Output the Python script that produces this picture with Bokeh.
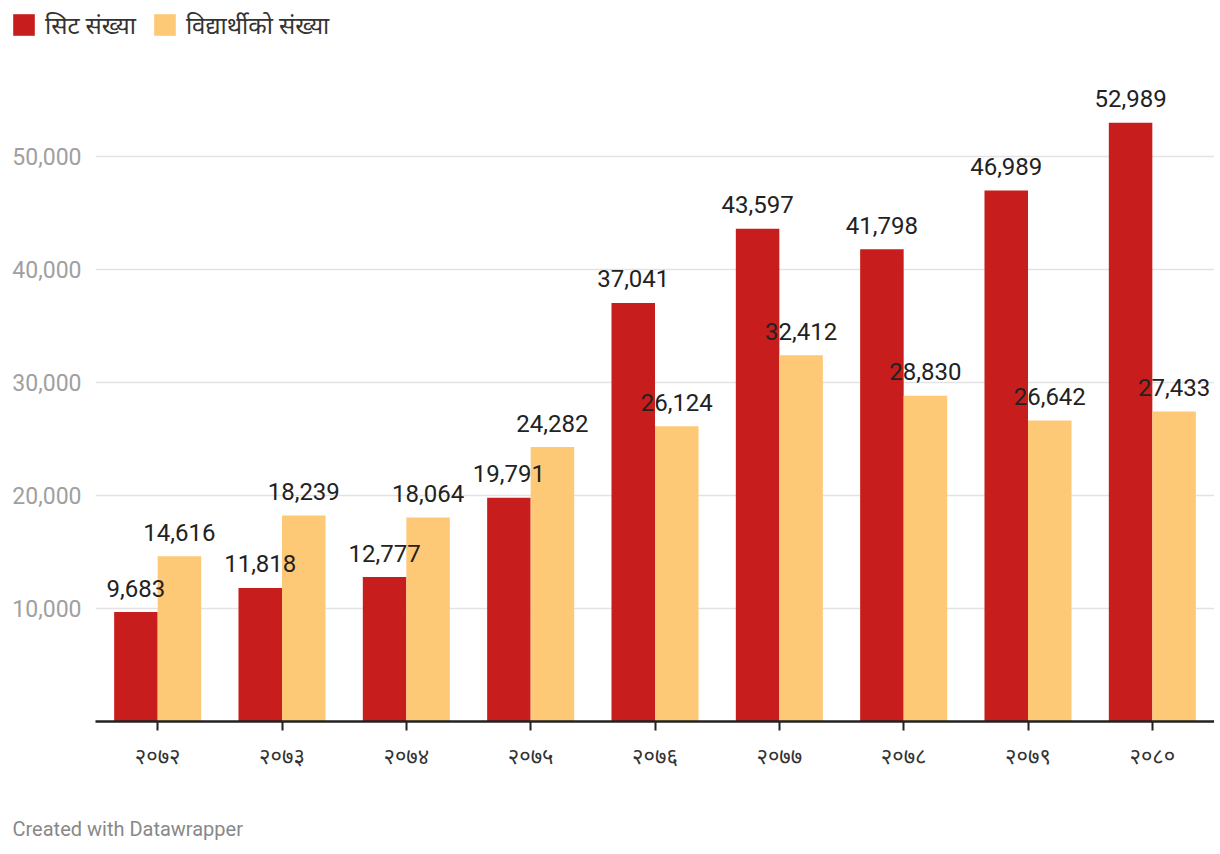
from bokeh.plotting import figure
from bokeh.models import ColumnDataSource, FactorRange, Range1d, FixedTicker, Legend, LegendItem, Label, NumeralTickFormatter
from bokeh.transform import dodge
from bokeh.core.properties import value
from bokeh.embed import file_html
from bokeh.resources import INLINE

years = ["२०७२", "२०७३", "२०७४", "२०७५", "२०७६", "२०७७", "२०७८", "२०७९", "२०८०"]
seats = [9683, 11818, 12777, 19791, 37041, 43597, 41798, 46989, 52989]
students = [14616, 18239, 18064, 24282, 26124, 32412, 28830, 26642, 27433]
series_names = ["सिट संख्या", "विद्यार्थीको संख्या"]
y_ticks = [10000, 20000, 30000, 40000, 50000]
footer_text = "Created with Datawrapper"

RED = "#c71e1d"
YELLOW = "#fec977"
FONT = "Roboto, 'Noto Sans', sans-serif"
W = 1214

src = ColumnDataSource(dict(
    year=years,
    seats=seats,
    students=students,
    seats_lbl=[f"{v:,}" for v in seats],
    students_lbl=[f"{v:,}" for v in students],
))

# ---- legend strip (zero-width bars outside its visible range; only the legend shows) ----
leg = figure(width=W, height=45, x_range=FactorRange(factors=years), y_range=Range1d(-100000, -60000),
             x_axis_location=None, y_axis_location=None,
             output_backend="svg", toolbar_location=None, min_border=0)
leg.outline_line_color = None
leg.grid.visible = False
lr1 = leg.vbar(x="year", top="seats", width=0, source=src, fill_color=RED, line_color=None)
lr2 = leg.vbar(x="year", top="students", width=0, source=src, fill_color=YELLOW, line_color=None)
legend = Legend(
    items=[LegendItem(label=series_names[0], renderers=[lr1]),
           LegendItem(label=series_names[1], renderers=[lr2])],
    orientation="horizontal",
    location=(10, 4),
    glyph_width=27, glyph_height=27,
    label_standoff=8, spacing=15, padding=0, margin=0,
    border_line_color=None, background_fill_alpha=0,
    label_text_font=FONT, label_text_font_size="24px", label_text_color="#333333",
)
leg.add_layout(legend, "center")

# ---- main chart ----
p = figure(
    x_range=FactorRange(factors=years),
    y_range=Range1d(0, 58496),
    width=W, height=738,
    output_backend="svg", toolbar_location=None,
    min_border_left=95, min_border_right=0, min_border_top=15, min_border_bottom=62,
)
p.outline_line_color = None
p.background_fill_color = "white"
p.border_fill_color = "white"

p.vbar(x=dodge("year", -0.175, range=p.x_range), top="seats", width=0.35,
       source=src, fill_color=RED, line_color=None)
p.vbar(x=dodge("year", 0.175, range=p.x_range), top="students", width=0.35,
       source=src, fill_color=YELLOW, line_color=None)

p.text(x=dodge("year", -0.175, range=p.x_range), y="seats", text="seats_lbl", source=src,
       text_align="center", text_baseline="alphabetic", y_offset=-24,
       text_font=value(FONT), text_font_size="24px", text_color="#222222")
p.text(x=dodge("year", 0.175, range=p.x_range), y="students", text="students_lbl", source=src,
       text_align="center", text_baseline="alphabetic", y_offset=-24,
       text_font=value(FONT), text_font_size="24px", text_color="#222222")

# grid
p.xgrid.grid_line_color = None
p.ygrid.ticker = FixedTicker(ticks=y_ticks)
p.ygrid.grid_line_color = "#e3e3e3"
p.ygrid.grid_line_width = 1.5

# y axis
p.yaxis.ticker = FixedTicker(ticks=y_ticks)
p.yaxis.formatter = NumeralTickFormatter(format="0,0")
p.yaxis.axis_line_color = None
p.yaxis.major_tick_line_color = None
p.yaxis.minor_tick_line_color = None
p.yaxis.major_label_standoff = 8
p.yaxis.major_label_text_font = FONT
p.yaxis.major_label_text_font_size = "23px"
p.yaxis.major_label_text_color = "#a0a0a0"

# x axis
p.xaxis.axis_line_color = "#222222"
p.xaxis.axis_line_width = 2.5
p.xaxis.major_tick_line_color = "#222222"
p.xaxis.major_tick_line_width = 2
p.xaxis.major_tick_in = 0
p.xaxis.major_tick_out = 9
p.xaxis.major_label_standoff = 13
p.xaxis.major_label_text_font = FONT
p.xaxis.major_label_text_font_size = "22px"
p.xaxis.major_label_text_color = "#333333"

# ---- footer strip ----
foot = figure(width=W, height=60, x_range=Range1d(0, 1), y_range=Range1d(0, 1),
              x_axis_location=None, y_axis_location=None,
              output_backend="svg", toolbar_location=None, min_border=0)
foot.outline_line_color = None
foot.grid.visible = False
foot.add_layout(Label(x=12, y=15, x_units="screen", y_units="screen", text=footer_text,
                      text_font=FONT, text_font_size="20px", text_color="#888888",
                      text_baseline="middle", text_align="left"))

open("out.html", "w").write(file_html([leg, p, foot], INLINE))
